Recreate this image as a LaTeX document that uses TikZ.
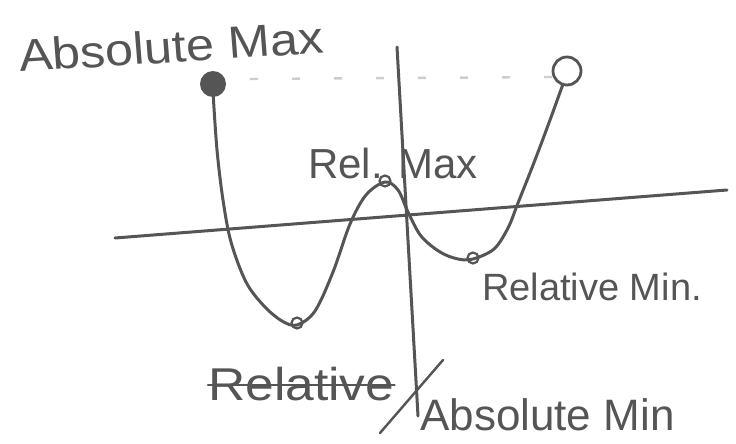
\documentclass[tikz,border=0pt]{standalone}
\usepackage{fontspec}
\setmainfont{Liberation Sans}
\definecolor{inkc}{RGB}{85,85,85}
\definecolor{faint}{RGB}{205,205,205}
\begin{document}
\begin{tikzpicture}[x=1pt,y=-1pt,
  ink/.style={draw=inkc, line width=3pt, line cap=round, line join=round},
  lbl/.style={text=inkc, inner sep=0pt, anchor=base west},
  dot/.style={circle, draw=inkc, line width=2.2pt, minimum size=11pt, inner sep=0pt}]
\useasboundingbox (0,0) rectangle (736,444);
% axes
\coordinate (yt) at (397,47);
\coordinate (yb) at (418,416);
\coordinate (xl) at (115,238);
\coordinate (xr) at (727,190);
\draw[ink] (yt) -- (yb);
\draw[ink] (xl) -- (xr);
% dashed level line
\coordinate (dl) at (250,79);
\coordinate (dr) at (553,77);
\draw[faint, line width=2.4pt, dash pattern=on 8pt off 34pt] (dl) -- (dr);
% curve
\draw[ink] plot[smooth, tension=0.55] coordinates {
 (213,92) (217,150) (223,200) (231,242) (246,282) (264,306) (282,321) (297,325)
 (315,311) (333,272) (350,224) (366,195) (385,182) (398,190) (408,212)
 (421,236) (440,252) (458,259) (473,259) (494,249) (508,228) (518,203)
 (535,160) (550,120) (563,84)};
% extreme points
\node[circle, fill=inkc, minimum width=22pt, minimum height=26pt, inner sep=0pt] (amax) at (213,84) {};
\node[circle, draw=inkc, line width=2.8pt, minimum size=28pt, inner sep=0pt] (amax2) at (567,71) {};
\node[dot] (rmax) at (385,181) {};
\node[dot] (rmin1) at (297,323) {};
\node[dot] (rmin2) at (473,258) {};
% labels
\node[lbl, font=\fontsize{45}{54}\selectfont, xscale=1.12, rotate=4] (tAmax) at (20,72) {Absolute Max};
\node[lbl, font=\fontsize{42}{50}\selectfont] (tRmax) at (308,178) {Rel. Max};
\node[lbl, font=\fontsize{38}{46}\selectfont] (tRmin) at (482,300) {Relative Min.};
\node[lbl, font=\fontsize{46}{54}\selectfont, xscale=1.12] (tRel) at (208,400) {Relative};
\node[lbl, font=\fontsize{44}{52}\selectfont] (tAmin) at (420,430) {Absolute Min};
% strike-through and slash
\draw[ink, line width=2.4pt] ([yshift=15pt]tRel.base west) -- ([yshift=15pt]tRel.base east);
\coordinate (s1) at (380,433);
\coordinate (s2) at (443,360);
\draw[ink, line width=2.4pt] (s1) -- (s2);
\end{tikzpicture}
\end{document}
